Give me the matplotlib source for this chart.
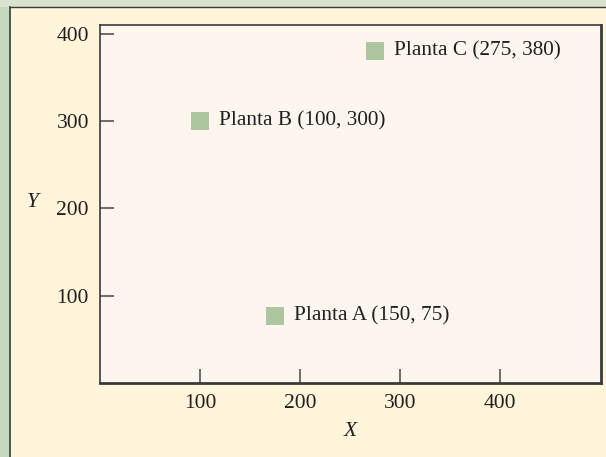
import matplotlib.pyplot as plt
from matplotlib.patches import Rectangle
from matplotlib.lines import Line2D

# plant locations as drawn on the chart, and their labels
plants = ["Planta A (150, 75)", "Planta B (100, 300)", "Planta C (275, 380)"]
plant_x = [175, 100, 275]
plant_y = [77, 300, 380]
x_ticks = [100, 200, 300, 400]
y_ticks = [100, 200, 300, 400]

W, H = 606, 457
plt.rcParams['font.family'] = ['Liberation Serif', 'DejaVu Serif']

fig = plt.figure(figsize=(W / 100, H / 100), dpi=100)
fig.patch.set_facecolor('#c6d8bd')

# cream panel behind the axes
fig.patches.append(Rectangle((10 / W, 0), 1, 1 - 7 / H, transform=fig.transFigure,
                             facecolor='#fef5db', edgecolor='none', zorder=-2))
fig.patches.append(Rectangle((0, 1 - 7 / H), 1, 7 / H, transform=fig.transFigure,
                             facecolor='#d8e4d0', edgecolor='none', zorder=-2))
fig.lines.append(Line2D([10 / W, 10 / W], [0, 1 - 7 / H], transform=fig.transFigure,
                        color='#3a3a3a', lw=1.2, zorder=-1))
fig.lines.append(Line2D([10 / W, 1], [1 - 7 / H, 1 - 7 / H], transform=fig.transFigure,
                        color='#3a3a3a', lw=1.0, zorder=-1))

ax = fig.add_axes([100 / W, 1 - 383 / H, 501 / W, (383 - 25) / H])
ax.set_facecolor('#fdf6ee')
ax.set_xlim(0, 501)
ax.set_ylim(0, 410)

ax.scatter(plant_x, plant_y, marker='s', s=155, color='#adc6a0', linewidths=0, zorder=3)
for x, y, name in zip(plant_x, plant_y, plants):
    ax.annotate(name, (x, y), xytext=(14, 0), textcoords='offset points',
                va='center', ha='left', fontsize=15.3, color='#231f20')

ax.set_xticks(x_ticks)
ax.set_yticks(y_ticks)
ax.tick_params(direction='in', length=10, width=1.2, color='#555555',
               labelsize=15.5, labelcolor='#231f20', pad=8)
for side in ['left', 'top']:
    ax.spines[side].set_linewidth(1.2)
    ax.spines[side].set_color('#3a3a3a')
for side in ['right', 'bottom']:
    ax.spines[side].set_linewidth(2)
    ax.spines[side].set_color('#3a3a3a')

fig.text(350 / W, 1 - 432 / H, 'X', ha='center', va='center', fontsize=15.5,
         style='italic', color='#231f20')
fig.text(33 / W, 1 - 203 / H, 'Y', ha='center', va='center', fontsize=15.5,
         style='italic', color='#231f20')

fig.savefig('out.png', dpi=100, facecolor=fig.get_facecolor())
